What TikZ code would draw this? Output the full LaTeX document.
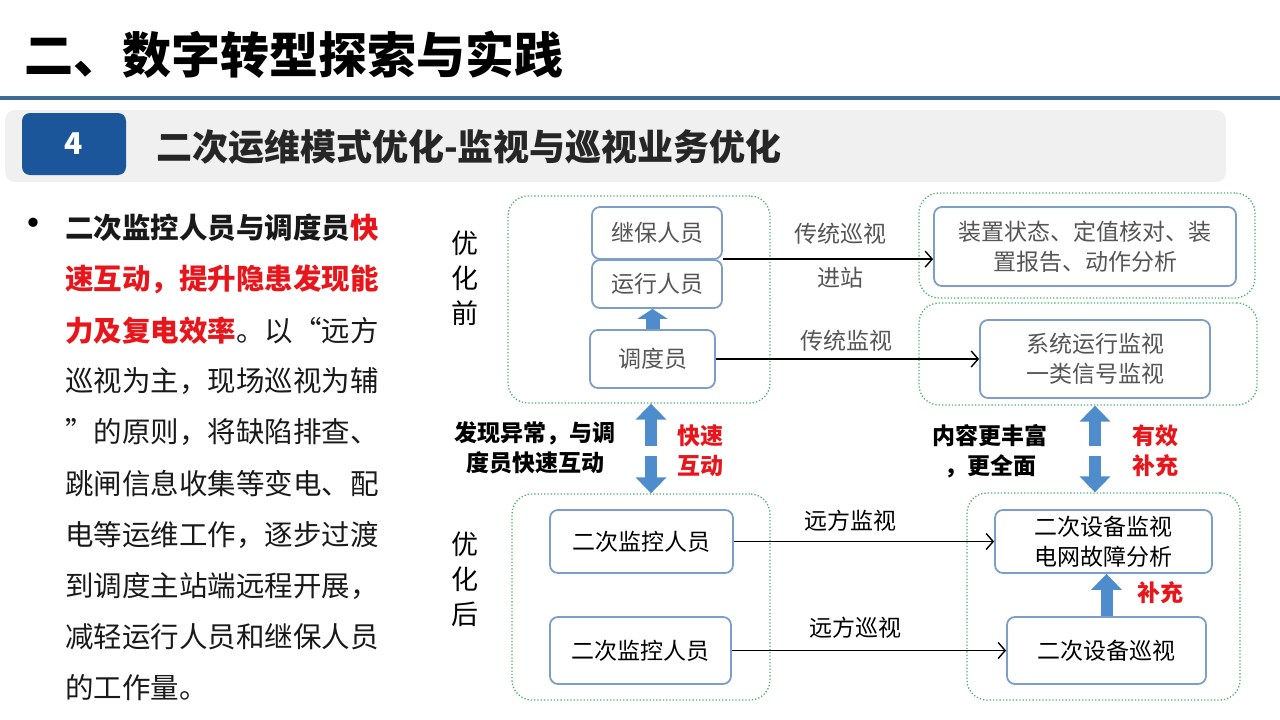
\documentclass[tikz,border=0pt]{standalone}
\usepackage{fontspec}
\setmainfont{Noto Sans CJK SC}
\usetikzlibrary{arrows.meta,positioning}

\definecolor{titleblue}{HTML}{3E6A94}
\definecolor{tagblue}{HTML}{1A5699}
\definecolor{barbg}{HTML}{F0F0F0}
\definecolor{zonegreen}{HTML}{4DB071}
\definecolor{boxblue}{HTML}{7C9EC8}
\definecolor{arrowblue}{HTML}{4E8CCB}
\definecolor{hotred}{HTML}{E8151B}
\definecolor{softgray}{HTML}{555555}

\tikzset{
  zone/.style={draw=zonegreen, dotted, line width=1.3pt, rounded corners=20pt, inner sep=0pt},
  box/.style={draw=boxblue, line width=1.8pt, rounded corners=8pt, fill=white, align=center,
    inner sep=0pt, font=\fontsize{23}{30}\selectfont, text=softgray},
  newbox/.style={box, text=black},
  link/.style={line width=1.4pt, -{Straight Barb[length=7pt,width=16pt]}},
  blockarrow/.style={arrowblue, line width=12pt, -{Triangle[length=16pt,width=30pt]}},
  shortarrow/.style={arrowblue, line width=14pt, -{Triangle[length=10pt,width=30pt]}},
  lbl/.style={font=\fontsize{23}{30}\selectfont, text=softgray, align=center},
  note/.style={font=\fontsize{23}{30}\selectfont\bfseries, align=center},
  rednote/.style={note, text=hotred},
  side/.style={font=\fontsize{27}{35}\selectfont, text=black, align=center},
  bodyline/.style={anchor=west, inner sep=0pt, font=\fontsize{28.5}{34}\selectfont, text=black!90}
}

\begin{document}
\begin{tikzpicture}[x=1pt, y=-1pt]

	\useasboundingbox (0,0) rectangle (1280,720);

	% heading
	\node [anchor=west, inner sep=0pt, font=\fontsize{49}{55}\selectfont\bfseries] (title) at (24,55) {二、数字转型探索与实践};
	\fill [titleblue] (0,96) rectangle (1280,100);
	\fill [barbg, rounded corners=10pt] (5,110) rectangle (1226,182);
	\node [fill=tagblue, rounded corners=8pt, minimum width=104pt, minimum height=62pt, text=white,
		font=\fontsize{30}{34}\selectfont\bfseries] (tag) at (74,144) {4};
	\node [anchor=west, inner sep=0pt, font=\fontsize{36}{40}\selectfont\bfseries, text=black!85] (subtitle) at (156,147) {二次运维模式优化-监视与巡视业务优化};

	% bullet text
	\node [inner sep=0pt, font=\fontsize{44}{46}\selectfont] (dot) at (33,229) {•};
	\foreach \txt [count=\i] in {
		{\bfseries 二次监控人员与调度员\textcolor{hotred}{快}},
		{\bfseries\color{hotred}速互动，提升隐患发现能},
		{\textcolor{hotred}{\bfseries 力及复电效率}。以“远方},
		{巡视为主，现场巡视为辅},
		{”的原则，将缺陷排查、},
		{跳闸信息收集等变电、配},
		{电等运维工作，逐步过渡},
		{到调度主站端远程开展，},
		{减轻运行人员和继保人员},
		{的工作量。}}
		\node [bodyline] (line\i) at (65,228+51.1*\i-51.1) {\txt};

	%%%%%%%%%%%%%%%%%%%%%%%%%%%%%%%%%%%%%%%%%%%%%%%%%%%%%%%%%%%%%%%%

	% before
	\node [side] (beforelbl) at (465,278) {优\\化\\前};
	\node [zone, minimum width=262pt, minimum height=207pt] (before) at (639,299.5) {};
	\node [zone, minimum width=336pt, minimum height=105pt] (devzone) at (1087,245.5) {};
	\node [zone, minimum width=338pt, minimum height=102pt] (syszone) at (1088,354) {};

	\node [box, minimum width=130pt, minimum height=52pt] (jibao) at (657,233) {继保人员};
	\node [box, minimum width=130pt, minimum height=48pt] (yunxing) at (657,284) {运行人员};
	\node [box, minimum width=125pt, minimum height=58pt] (diaodu) at (652.5,359) {调度员};
	\node [box, minimum width=302pt, minimum height=79pt] (dev) at (1085,246.5) {装置状态、定值核对、装\\置报告、动作分析};
	\node [box, minimum width=230pt, minimum height=78pt] (sys) at (1095,359) {系统运行监视\\一类信号监视};

	\draw [shortarrow] (diaodu.north) -- (diaodu.north |- yunxing.south);
	\draw [link] (yunxing.north east) -- (yunxing.north east -| dev.west);
	\draw [link] (diaodu.east) -- (sys.west);
	\node [lbl] (patrol) at (840,234) {传统巡视};
	\node [lbl] (enter) at (840,278) {进站};
	\node [lbl] (watch) at (846,341) {传统监视};

	% between
	\coordinate (fastup) at (651,446);
	\coordinate (fastdn) at (651,456);
	\coordinate (richup) at (1095,446);
	\coordinate (richdn) at (1095,456);
	\node [note] (found) at (535,448) {发现异常，与调\\度员快速互动};
	\node [rednote] (fast) at (700,451) {快速\\互动};
	\node [note] (rich) at (990,451) {内容更丰富\\，更全面};
	\node [rednote] (useful) at (1155,451) {有效\\补充};

	% after
	\node [side] (afterlbl) at (465,579) {优\\化\\后};
	\node [zone, minimum width=258pt, minimum height=206pt] (after) at (641,597) {};
	\node [zone, minimum width=273pt, minimum height=207pt] (eqzone) at (1103.5,596.5) {};

	\node [newbox, minimum width=183pt, minimum height=63pt] (mona) at (641.5,541.5) {二次监控人员};
	\node [newbox, minimum width=181pt, minimum height=67pt] (monb) at (640.5,650.5) {二次监控人员};
	\node [newbox, minimum width=217pt, minimum height=63pt] (eqmon) at (1103.5,541.5) {二次设备监视\\电网故障分析};
	\node [newbox, minimum width=199pt, minimum height=67pt] (eqpat) at (1106.5,650.5) {二次设备巡视};

	\draw [link] (mona.east) -- (mona.east -| eqmon.west);
	\draw [link] (monb.east) -- (monb.east -| eqpat.west);
	\draw [blockarrow] (eqpat.north) -- (eqpat.north |- eqmon.south);
	\node [lbl, text=black] (remwatch) at (850,521) {远方监视};
	\node [lbl, text=black] (rempatrol) at (855,628) {远方巡视};
	\node [rednote] (extra) at (1160,593) {补充};

	\draw [blockarrow] (fastup) -- (fastup |- before.south);
	\draw [blockarrow] (fastdn) -- (fastdn |- after.north);
	\draw [blockarrow] (richup) -- (richup |- syszone.south);
	\draw [blockarrow] (richdn) -- (richdn |- eqzone.north);

\end{tikzpicture}
\end{document}
